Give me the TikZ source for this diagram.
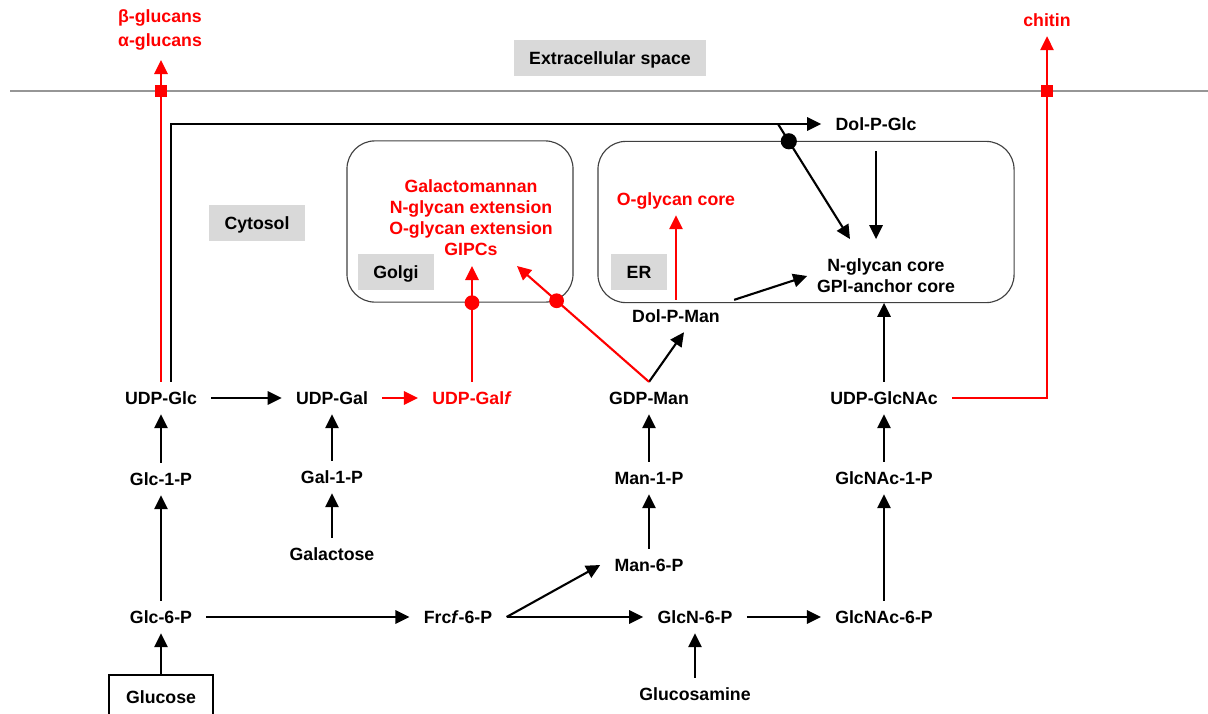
\documentclass[tikz,border=0pt]{standalone}
\usepackage{fontspec}
\setmainfont{Liberation Sans}
\usetikzlibrary{arrows.meta,calc}

\definecolor{labelgray}{RGB}{217,217,217}
\definecolor{membgray}{RGB}{150,150,150}
\newcommand\labfont{\fontsize{12.6}{15}\selectfont\bfseries}

\tikzset{
  met/.style={font=\labfont, inner xsep=10pt, inner ysep=6.8pt, text height=9pt, text depth=0pt},
  multi/.style={font=\labfont, align=center, inner sep=6.8pt},
  place/.style={fill=labelgray, font=\labfont, inner xsep=11pt, minimum height=25.5pt, text height=9pt, text depth=0pt},
  compartment/.style={draw=black!75, line width=0.8pt, rounded corners=0.7cm, minimum height=4.03cm},
  flow/.style={-{Triangle[length=10pt,width=9.5pt]}, line width=1.5pt},
  redflow/.style={flow, red},
  reddot/.style={circle, fill=red, inner sep=0pt, minimum size=10.5pt},
  blackdot/.style={circle, fill=black, inner sep=0pt, minimum size=11.5pt},
  redsq/.style={fill=red, inner sep=0pt, minimum size=9.2pt}
}

\begin{document}
\begin{tikzpicture}[x=0.025cm,y=-0.025cm]
  \useasboundingbox (0,0) rectangle (1208,713);

  % membrane
  \coordinate (memL) at (10,91);
  \coordinate (memR) at (1208,91);
  \draw[membgray, line width=1.2pt] (memL) -- (memR);

  % compartments
  \node[compartment, minimum width=5.65cm] (golgi) at (460,221.5) {};
  \node[compartment, minimum width=10.4cm] (er) at (806,222) {};

  \node[place] (extra) at (610,58) {Extracellular space};
  \node[place] (cytosol) at (257,223) {Cytosol};
  \node[place] (golgilab) at (396,272) {Golgi};
  \node[place] (erlab) at (639,272) {ER};

  % products
  \node[multi, text=red] (glucans) at (160,30) {β-glucans\\[2pt]α-glucans};
  \node[met, text=red] (chitin) at (1047,20) {chitin};
  \node[multi, text=red] (golgitext) at (471,218)
    {Galactomannan\\N-glycan extension\\O-glycan extension\\GIPCs};
  \node[met, text=red] (ocore) at (676,199) {O-glycan core};
  \node[multi] (nglycan) at (886,276) {N-glycan core\\GPI-anchor core};

  % metabolites
  \node[met] (dolpglc) at (876,124) {Dol-P-Glc};
  \node[met] (dolpman) at (676,316) {Dol-P-Man};
  \node[met] (udpglc) at (161,398) {UDP-Glc};
  \node[met] (udpgal) at (332,398) {UDP-Gal};
  \node[met, text=red] (udpgalf) at (472,398) {UDP-Gal\textit{f}};
  \node[met] (gdpman) at (649,398) {GDP-Man};
  \node[met] (udpglcnac) at (884,398) {UDP-GlcNAc};
  \node[met] (glc1p) at (161,479) {Glc-1-P};
  \node[met] (gal1p) at (332,477) {Gal-1-P};
  \node[met] (man1p) at (649,478) {Man-1-P};
  \node[met] (glcnac1p) at (884,478) {GlcNAc-1-P};
  \node[met] (galactose) at (332,554) {Galactose};
  \node[met] (man6p) at (649,565) {Man-6-P};
  \node[met] (glc6p) at (161,617) {Glc-6-P};
  \node[met] (frcf) at (458,617) {Frc\textit{f}-6-P};
  \node[met] (glcn6p) at (695,617) {GlcN-6-P};
  \node[met] (glcnac6p) at (884,617) {GlcNAc-6-P};
  \node[met] (glucosamine) at (695,694) {Glucosamine};
  \node[met, draw, line width=0.8pt, minimum width=2.6cm, minimum height=1.1cm] (glucose) at (161,697) {Glucose};

  % black arrows
  \draw[flow] (glucose) -- (glc6p);
  \draw[flow] (glc6p) -- (glc1p);
  \draw[flow] (glc1p) -- (udpglc);
  \draw[flow] (udpglc) -- (udpgal);
  \draw[flow] (galactose) -- (gal1p);
  \draw[flow] (gal1p) -- (udpgal);
  \draw[flow] (glc6p) -- (frcf);
  \draw[flow] (frcf.east) -- (man6p.west);
  \draw[flow] (frcf.east) -- (glcn6p.west);
  \draw[flow] (glucosamine) -- (glcn6p);
  \draw[flow] (glcn6p) -- (glcnac6p);
  \draw[flow] (glcnac6p) -- (glcnac1p);
  \draw[flow] (glcnac1p) -- (udpglcnac);
  \draw[flow] (man6p) -- (man1p);
  \draw[flow] (man1p) -- (gdpman);
  \draw[flow] (gdpman.north) -- ($(dolpman.south)+(8,0)$);
  \draw[flow] (dolpman.north east) -- (nglycan.west);
  \draw[flow] (udpglcnac.north) -- (udpglcnac.north |- nglycan.south);
  \draw[flow] ([xshift=7pt]udpglc.north) |- (dolpglc.west);
  \coordinate (glcsplit) at (778,124);
  \draw[flow] (glcsplit) -- ($(nglycan.north)+(-36,-10)$) node[blackdot, pos=0.15] {};
  \draw[flow] ([yshift=-8pt]dolpglc.south) -- ($(dolpglc.south |- nglycan.north)+(0,-10)$);

  % red arrows
  \draw[redflow] (udpgal) -- (udpgalf);
  \draw[redflow] (udpglc.north) -- (udpglc.north |- glucans.south);
  \node[redsq] at (udpglc.north |- memL) {};
  \draw[redflow] (udpglcnac.east) -| (chitin.south);
  \node[redsq] at (chitin.south |- memL) {};
  \draw[redflow] (udpgalf.north) -- (udpgalf.north |- golgitext.south);
  \node[reddot] at (udpgalf.north |- golgi.south) {};
  \draw[redflow] (gdpman.north) -- ($(golgitext.south)+(46,0)$) node[reddot, pos=0.70] {};
  \draw[redflow] (dolpman) -- (ocore);
\end{tikzpicture}
\end{document}
